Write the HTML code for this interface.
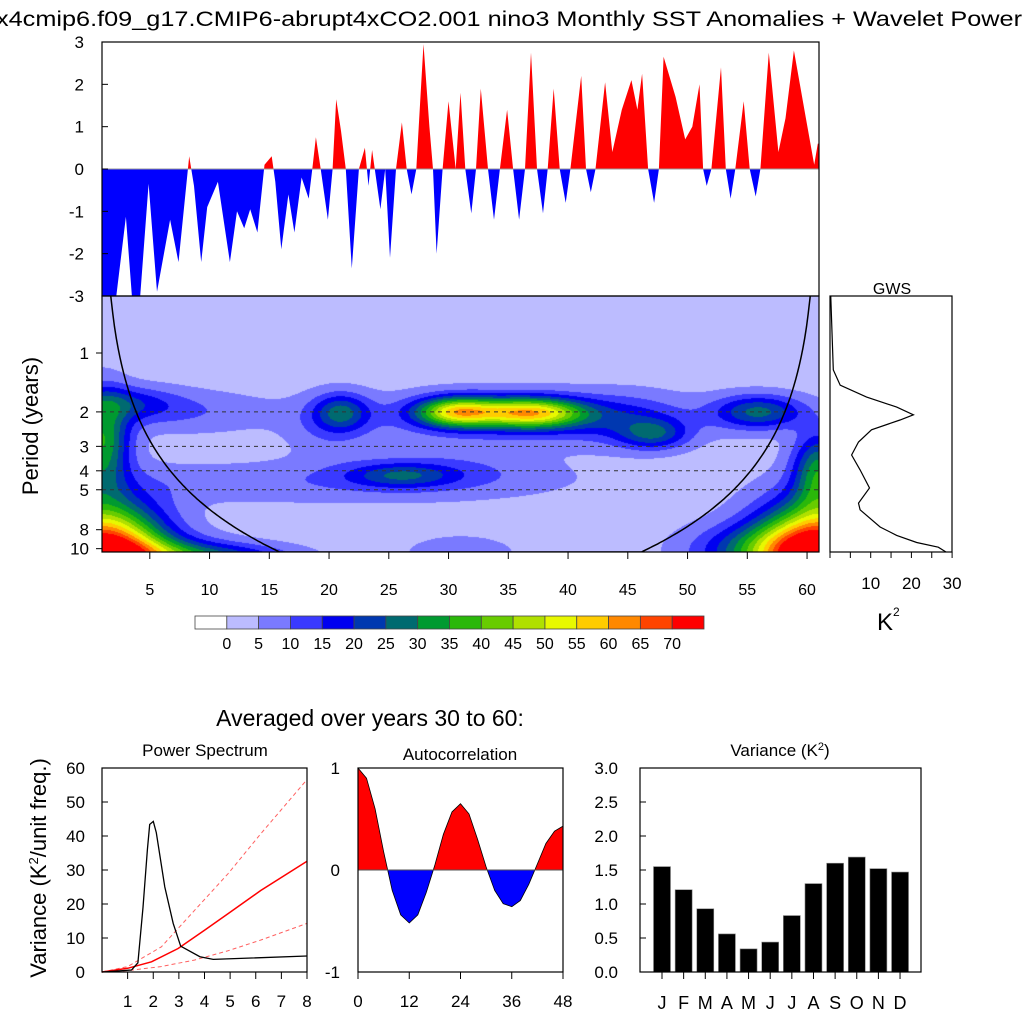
<!DOCTYPE html>
<html><head><meta charset="utf-8">
<style>
html,body{margin:0;padding:0;background:#fff;}
#wrap{position:relative;width:1024px;height:1024px;overflow:hidden;font-family:"Liberation Sans",sans-serif;}
#wave{position:absolute;left:102px;top:296px;}
#svg{position:absolute;left:0;top:0;}
text{font-family:"Liberation Sans",sans-serif;fill:#000;}
</style></head>
<body>
<div id="wrap">
<canvas id="wave" width="717" height="256"></canvas>
<svg id="svg" width="1024" height="1024" xmlns="http://www.w3.org/2000/svg">
<text x="-4" y="26" font-size="21" textLength="1026" lengthAdjust="spacingAndGlyphs">x4cmip6.f09_g17.CMIP6-abrupt4xCO2.001 nino3 Monthly SST Anomalies + Wavelet Power</text>
<g id="top"></g>
<g id="wv"></g>
<g id="gws"></g>
<g id="cbar"></g>
<text x="370" y="726" font-size="23" text-anchor="middle">Averaged over years 30 to 60:</text>
<g id="ps"></g>
<g id="ac"></g>
<g id="vr"></g>
</svg>
</div>
<script>
// ---------- data ----------
const tsYears=[1,2.2,3.0,3.5,4.2,4.9,5.6,6.7,7.4,7.9,8.3,8.7,9.3,9.8,10.7,11.7,12.3,12.9,13.4,14.0,14.6,15.2,15.5,16.0,16.6,17.1,17.7,18.3,18.6,18.9,19.3,19.9,20.3,20.6,21.0,21.4,21.9,22.5,23.0,23.3,23.6,24.3,24.7,25.1,25.6,26.1,26.5,26.9,27.3,27.9,28.4,28.7,29.0,29.5,30.0,30.6,31.0,31.4,31.9,32.3,32.7,33.3,33.8,34.3,34.9,35.4,35.9,36.4,36.9,37.4,37.9,38.3,38.8,39.3,39.8,40.2,41.1,41.5,41.9,42.3,43.1,43.7,44.5,45.3,45.8,46.2,46.7,47.2,47.6,48.0,49.0,49.8,50.4,51.0,51.3,51.6,52.0,52.8,53.2,53.6,54.0,54.7,55.2,55.7,56.1,56.8,57.6,58.2,58.9,59.9,60.6,60.9,61];
const tsValues=[-3,-3,-1.13,-3,-3,-0.35,-2.9,-1.2,-2.2,-0.8,0.3,-0.4,-2.2,-0.9,-0.3,-2.2,-1.0,-1.4,-0.95,-1.5,0.1,0.3,-0.3,-1.9,-0.6,-1.5,-0.2,-0.7,0,0.75,0,-1.2,0,1.65,0.9,0,-2.35,0,0.5,-0.4,0.45,-0.95,0,-2.1,0,1.1,0,-0.6,0,2.95,1.0,0,-2.0,0,1.6,0,1.8,0,-1.05,0,1.9,0,-1.2,0,1.4,0,-1.2,0,2.75,0,-1.05,0,1.9,0,-0.8,0,2.2,0,-0.55,0,2.05,0.4,1.4,2.1,1.4,2.25,0,-0.8,0,2.65,1.7,0.7,1.0,2.0,0,-0.4,0,2.4,0,-0.7,0,1.6,0,-0.65,0,2.75,0.4,1.2,2.8,1.2,0.1,0.6,0.6];
// wavelet blobs: [year, log2(period), amplitude, sigma-year, sigma-log2period]
const blobYear=[30.5,37.5,34,37,21,20,47.2,56,26,29,18,3,8,1,1,6,12,61,61,56,31,45];
const blobLogP=[1.0,1.02,1.0,1.1,1.0,1.25,1.38,1.0,2.08,2.0,2.2,0.85,1.0,3.45,1.5,3.45,3.45,3.45,2.0,3.35,3.4,1.15];
const blobAmp=[32,30,22,13,19,6,17,23,14,7,6,13,7,80,32,22,14,80,28,20,7,7];
const blobSy=[2.2,2.8,4,9,1.6,2.5,2,2.6,3,6,14,3,5,3.5,1.6,4,4,3.5,1.5,4,3,3];
const blobSl=[0.17,0.17,0.18,0.3,0.22,0.35,0.18,0.2,0.14,0.25,0.25,0.2,0.25,0.6,0.55,0.22,0.15,0.6,0.45,0.3,0.2,0.3];
const levelColors=["#ffffff","#bcbcff","#7a7aff","#3a3aff","#0000f0","#0038b0","#006a70","#009a30","#2ab80a","#68cc00","#b0e000","#e8f800","#ffcc00","#ff8800","#ff4400","#ff0000"];
const cbarLabels=["0","5","10","15","20","25","30","35","40","45","50","55","60","65","70"];
const gwsPeriods=[0.51,0.52,1.22,1.46,1.68,1.89,2.07,2.2,2.47,2.85,3.32,3.96,4.9,5.85,6.33,7.75,8.56,9.3,9.83,10.4];
const gwsValues=[0.2,0.2,0.8,2.5,9,16.4,20.5,17.2,10.2,7,5.3,7.4,9.7,7,7.4,12.3,16.4,21.3,26.6,28.5];
const psFreq=[0,1.15,1.4,1.6,1.77,1.86,2.0,2.12,2.45,2.78,3.07,3.82,4.34,8];
const psPower=[0,0.6,2.7,19,36,43.4,44.3,41,25,14.3,7.6,4.5,3.7,4.7];
const redFreq=[0,1,1.93,2.97,4.0,4.93,6.2,8];
const redMean=[0,1.1,3,6.9,12.3,17.2,24,32.6];
const redUpFreq=[0,1,2.32,3.62,4.93,6.2,8];
const redUpper=[0,1.6,7.4,18.2,29,40.7,56.6];
const redLoFreq=[0,1,2.3,3.6,4.9,6.2,8];
const redLower=[0,0.4,1.6,3.5,6.2,9.4,14.3];
const acLags=[0,2,4,6,8,10,12,14,16,18,20,22,24,26,28,30,32,34,36,38,40,42,44,46,48];
const acValues=[1.0,0.9,0.6,0.18,-0.2,-0.44,-0.52,-0.44,-0.22,0.05,0.35,0.57,0.65,0.55,0.3,0.03,-0.2,-0.33,-0.36,-0.3,-0.14,0.06,0.26,0.38,0.43];
const months=["J","F","M","A","M","J","J","A","S","O","N","D"];
const monthVar=[1.55,1.21,0.93,0.56,0.34,0.44,0.83,1.3,1.6,1.69,1.52,1.47];
const waveXTicks=[5,10,15,20,25,30,35,40,45,50,55,60];
const periodTicks=[1,2,3,4,5,8,10];

const NS="http://www.w3.org/2000/svg";
function mk(parent,tag,attrs,name,txt){const e=document.createElementNS(NS,tag);for(const k in attrs)e.setAttribute(k,attrs[k]);


if(txt!==undefined)e.textContent=txt;parent.appendChild(e);return e;}
const lg=Math.log2;

// ---------- top timeseries ----------
const T=document.getElementById('top');
const tx=y=>102+(y-1)*(717/60), ty=v=>169-v*42.33;
let d="M"+tx(tsYears[0])+","+ty(0);
tsYears.forEach((y,i)=>{d+=" L"+tx(y).toFixed(1)+","+ty(tsValues[i]).toFixed(1);});
d+=" L"+tx(61)+","+ty(0)+"Z";
const defs=mk(document.getElementById('svg'),'defs',{},'defs');
const c1=mk(defs,'clipPath',{id:'cpos'},'clip-positive');mk(c1,'rect',{x:102,y:42,width:717,height:127},'clip-rect');
const c2=mk(defs,'clipPath',{id:'cneg'},'clip-negative');mk(c2,'rect',{x:102,y:169,width:717,height:127},'clip-rect');
mk(T,'path',{d:d,fill:'#ff0000','clip-path':'url(#cpos)'},'positive-anomaly-area');
mk(T,'path',{d:d,fill:'#0000ff','clip-path':'url(#cneg)'},'negative-anomaly-area');
mk(T,'line',{x1:102,x2:819,y1:169,y2:169,stroke:'#999','stroke-width':1},'zero-line');
mk(T,'rect',{x:102,y:42,width:717,height:254,fill:'none',stroke:'#000','stroke-width':1.2},'top-frame');
[3,2,1,0,-1,-2,-3].forEach(v=>{mk(T,'line',{x1:102,x2:108,y1:ty(v),y2:ty(v),stroke:'#000'},'y-tick');
mk(T,'text',{x:84,y:ty(v)+6,'font-size':17,'text-anchor':'end'},'y-tick-label',String(v));});

// ---------- wavelet ----------
const W=document.getElementById('wv');
const wy=p=>353+lg(p)*58.9;
const cv=document.getElementById('wave'),ctx=cv.getContext('2d');
const img=ctx.createImageData(717,256);
const rgb=levelColors.map(h=>[parseInt(h.slice(1,3),16),parseInt(h.slice(3,5),16),parseInt(h.slice(5,7),16)]);
for(let j=0;j<256;j++){const lp=(296+j+0.5-353)/58.9;
 for(let i=0;i<717;i++){const yr=1+(i+0.5)*60/717;let v=2.5;
  for(let b=0;b<blobYear.length;b++){const a=(yr-blobYear[b])/blobSy[b],c=(lp-blobLogP[b])/blobSl[b];v+=blobAmp[b]*Math.exp(-0.5*(a*a+c*c));}
  let lev=Math.min(15,Math.floor(v/5)+1);const col=rgb[lev];const k=(j*717+i)*4;
  img.data[k]=col[0];img.data[k+1]=col[1];img.data[k+2]=col[2];img.data[k+3]=255;}}
ctx.putImageData(img,0,0);
[2,3,4,5].forEach(p=>mk(W,'line',{x1:102,x2:819,y1:wy(p),y2:wy(p),stroke:'#333','stroke-dasharray':'4,4','stroke-width':1},'period-guide-line'));
let coiL="",coiR="";
for(let k=0;k<=200;k++){const yr=1+k*30/200;const p=0.7*(yr-1);if(p<0.3)continue;const y=Math.min(552,wy(p));
 coiL+=(coiL?" L":"M")+tx(yr).toFixed(1)+","+y.toFixed(1);coiR+=(coiR?" L":"M")+tx(62-yr).toFixed(1)+","+y.toFixed(1);}
const c3=mk(defs,'clipPath',{id:'cwv'},'clip-wavelet');mk(c3,'rect',{x:102,y:296,width:717,height:256},'clip-rect');
mk(W,'path',{d:coiL,fill:'none',stroke:'#000','stroke-width':1.5,'clip-path':'url(#cwv)'},'cone-of-influence-left');
mk(W,'path',{d:coiR,fill:'none',stroke:'#000','stroke-width':1.5,'clip-path':'url(#cwv)'},'cone-of-influence-right');
mk(W,'rect',{x:102,y:296,width:717,height:256,fill:'none',stroke:'#000','stroke-width':1.2},'wavelet-frame');
periodTicks.forEach(p=>{mk(W,'line',{x1:96,x2:102,y1:wy(p),y2:wy(p),stroke:'#000'},'y-tick');
 mk(W,'text',{x:89,y:wy(p)+6,'font-size':17,'text-anchor':'end'},'period-tick-label',String(p));});
waveXTicks.forEach(t=>{mk(W,'line',{x1:tx(t),x2:tx(t),y1:552,y2:559,stroke:'#000'},'x-tick');
 mk(W,'text',{x:tx(t),y:595,'font-size':16,'text-anchor':'middle'},'year-tick-label',String(t));});
mk(W,'text',{x:0,y:0,'font-size':22,'text-anchor':'middle',transform:'translate(38,426) rotate(-90)'},'period-axis-title','Period (years)');

// ---------- GWS ----------
const G=document.getElementById('gws');
const gx=v=>830+v*4.07;
let gd="";gwsPeriods.forEach((p,i)=>{gd+=(i?" L":"M")+gx(gwsValues[i]).toFixed(1)+","+Math.min(552,wy(p)).toFixed(1);});
mk(G,'path',{d:gd,fill:'none',stroke:'#000','stroke-width':1.2},'gws-line');
mk(G,'rect',{x:830,y:296,width:122,height:256,fill:'none',stroke:'#000','stroke-width':1.2},'gws-frame');
[10,20,30].forEach(v=>mk(G,'text',{x:gx(v),y:589,'font-size':17,'text-anchor':'middle'},'gws-tick-label',String(v)));
[0,5,10,15,20,25,30].forEach(v=>mk(G,'line',{x1:gx(v),x2:gx(v),y1:552,y2:558,stroke:'#000'},'x-tick'));
mk(G,'text',{x:892,y:294,'font-size':16,'text-anchor':'middle'},'gws-title','GWS');
mk(G,'text',{x:877,y:630,'font-size':24},'gws-unit-label','K');
mk(G,'text',{x:893,y:616,'font-size':12},'gws-unit-superscript','2');

// ---------- colorbar ----------
const CB=document.getElementById('cbar');
const bw=(704-195)/16;
levelColors.forEach((c,i)=>mk(CB,'rect',{x:195+i*bw,y:616,width:bw,height:13,fill:c,stroke:'#444','stroke-width':0.8},'colorbar-box'));
cbarLabels.forEach((l,i)=>mk(CB,'text',{x:195+(i+1)*bw,y:649,'font-size':16,'text-anchor':'middle'},'colorbar-label',l));

// ---------- power spectrum ----------
const P=document.getElementById('ps');
const px=f=>102+f*25.625, py=v=>972-v*3.4;
function pl(xs,ys,fx,fy){return xs.map((x,i)=>(i?"L":"M")+fx(x).toFixed(1)+","+fy(ys[i]).toFixed(1)).join(" ");}
mk(P,'path',{d:pl(redUpFreq,redUpper,px,py),fill:'none',stroke:'#ff6060','stroke-width':1,'stroke-dasharray':'4,3'},'red-noise-upper-bound');
mk(P,'path',{d:pl(redLoFreq,redLower,px,py),fill:'none',stroke:'#ff6060','stroke-width':1,'stroke-dasharray':'4,3'},'red-noise-lower-bound');
mk(P,'path',{d:pl(redFreq,redMean,px,py),fill:'none',stroke:'#ff0000','stroke-width':1.5},'red-noise-spectrum');
mk(P,'path',{d:pl(psFreq,psPower,px,py),fill:'none',stroke:'#000','stroke-width':1.3},'power-spectrum-line');
mk(P,'rect',{x:102,y:768,width:205,height:204,fill:'none',stroke:'#000','stroke-width':1.2},'ps-frame');
[0,10,20,30,40,50,60].forEach(v=>{mk(P,'line',{x1:102,x2:108,y1:py(v),y2:py(v),stroke:'#000'},'y-tick');
 mk(P,'text',{x:85,y:py(v)+6,'font-size':17,'text-anchor':'end'},'ps-y-tick-label',String(v));});
[1,2,3,4,5,6,7,8].forEach(v=>{mk(P,'line',{x1:px(v),x2:px(v),y1:972,y2:979,stroke:'#000'},'x-tick');
 mk(P,'text',{x:px(v),y:1007,'font-size':17,'text-anchor':'middle'},'ps-x-tick-label',String(v));});
mk(P,'text',{x:205,y:756,'font-size':17,'text-anchor':'middle'},'ps-title','Power Spectrum');
const yl=mk(P,'text',{x:0,y:0,'font-size':22,'text-anchor':'middle',transform:'translate(46,868) rotate(-90)'},'ps-y-axis-title','');
yl.innerHTML='Variance (K<tspan dy="-8" font-size="13">2</tspan><tspan dy="8">/unit freq.)</tspan>';

// ---------- autocorrelation ----------
const A=document.getElementById('ac');
const ax=l=>358+l*(205/48), ay=v=>870-v*102;
let ad="M"+ax(0)+","+ay(0)+" "+acLags.map((l,i)=>"L"+ax(l).toFixed(1)+","+ay(acValues[i]).toFixed(1)).join(" ")+" L"+ax(48)+","+ay(0)+"Z";
const c4=mk(defs,'clipPath',{id:'capos'},'clip-ac-pos');mk(c4,'rect',{x:358,y:768,width:205,height:102},'clip-rect');
const c5=mk(defs,'clipPath',{id:'caneg'},'clip-ac-neg');mk(c5,'rect',{x:358,y:870,width:205,height:102},'clip-rect');
mk(A,'path',{d:ad,fill:'#ff0000','clip-path':'url(#capos)'},'positive-autocorr-area');
mk(A,'path',{d:ad,fill:'#0000ff','clip-path':'url(#caneg)'},'negative-autocorr-area');
mk(A,'path',{d:acLags.map((l,i)=>(i?"L":"M")+ax(l).toFixed(1)+","+ay(acValues[i]).toFixed(1)).join(" "),fill:'none',stroke:'#000','stroke-width':0.8},'autocorr-line');
mk(A,'line',{x1:358,x2:563,y1:870,y2:870,stroke:'#555'},'zero-line');
mk(A,'rect',{x:358,y:768,width:205,height:204,fill:'none',stroke:'#000','stroke-width':1.2},'ac-frame');
[1,0,-1].forEach(v=>mk(A,'text',{x:340,y:ay(v)+6,'font-size':17,'text-anchor':'end'},'ac-y-tick-label',String(v)));
[0,12,24,36,48].forEach(v=>{mk(A,'line',{x1:ax(v),x2:ax(v),y1:972,y2:979,stroke:'#000'},'x-tick');
 mk(A,'text',{x:ax(v),y:1007,'font-size':17,'text-anchor':'middle'},'ac-x-tick-label',String(v));});
mk(A,'text',{x:460,y:760,'font-size':17,'text-anchor':'middle'},'ac-title','Autocorrelation');

// ---------- variance ----------
const V=document.getElementById('vr');
const vx=i=>662+i*21.64, vy=v=>972-v*68;
monthVar.forEach((v,i)=>mk(V,'rect',{x:vx(i)-8.5,y:vy(v),width:17,height:v*68,fill:'#000',stroke:'#888','stroke-width':0.6},'bar-'+months[i].toLowerCase()+i));
mk(V,'rect',{x:640,y:768,width:281,height:204,fill:'none',stroke:'#000','stroke-width':1.2},'variance-frame');
[0,0.5,1,1.5,2,2.5,3].forEach(v=>{mk(V,'line',{x1:640,x2:646,y1:vy(v),y2:vy(v),stroke:'#000'},'y-tick');
 mk(V,'text',{x:618,y:vy(v)+6,'font-size':17,'text-anchor':'end'},'var-y-tick-label',v.toFixed(1));});
months.forEach((m,i)=>{mk(V,'line',{x1:vx(i),x2:vx(i),y1:972,y2:979,stroke:'#000'},'x-tick');
 mk(V,'text',{x:vx(i),y:1009,'font-size':18,'text-anchor':'middle'},'month-label',m);});
const vt=mk(V,'text',{x:780,y:756,'font-size':17,'text-anchor':'middle'},'variance-title','');
vt.innerHTML='Variance (K<tspan dy="-6" font-size="11">2</tspan><tspan dy="6">)</tspan>';
</script>
</body></html>
